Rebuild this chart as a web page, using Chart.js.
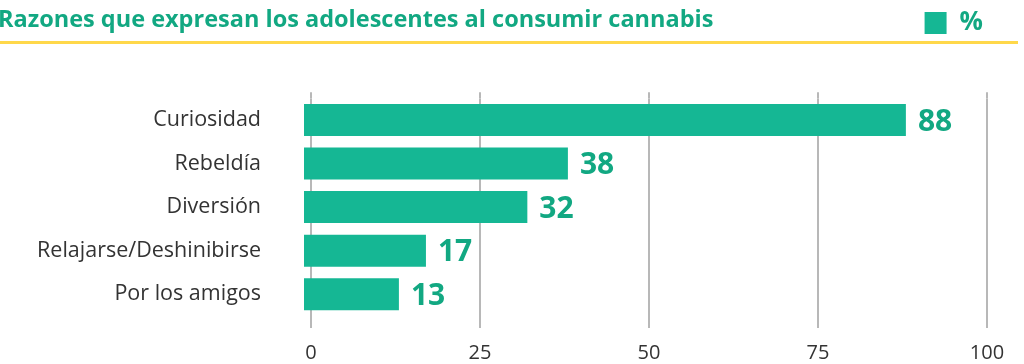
<!DOCTYPE html>
<html lang="es">
<head>
  <meta charset="UTF-8">
  <title>Razones que expresan los adolescentes al consumir cannabis</title>
  <script src="https://cdn.jsdelivr.net/npm/chart.js"></script>
  <style>
    html, body { margin: 0; padding: 0; background: #fff; }
    #wrap { width: 1024px; height: 364px; position: relative; }
  </style>
</head>
<body>
  <div id="wrap"><canvas id="razones"></canvas></div>

  <script>
    // datos
    const titulo = 'Razones que expresan los adolescentes al consumir cannabis';
    const categorias = ['Curiosidad', 'Rebeldía', 'Diversión', 'Relajarse/Deshinibirse', 'Por los amigos'];
    const porcentajes = [88, 38, 32, 17, 13];
    const serieNombre = '%';
    const marcasX = [0, 25, 50, 75, 100];

    const verde = '#15b794';
    const verdeTexto = '#12a882';
    const amarillo = '#ffd84a';
    const gris = '#b8b8b8';
    const fuente = "'Open Sans'";

    // titulo + linea amarilla, a la izquierda de la leyenda
    const cabecera = {
      id: 'cabecera',
      afterDraw(chart) {
        const ctx = chart.ctx;
        ctx.save();
        ctx.fillStyle = verdeTexto;
        ctx.font = 'bold 23.5px ' + fuente;
        ctx.textBaseline = 'alphabetic';
        ctx.textAlign = 'left';
        ctx.fillText(titulo, -2, 27);
        ctx.fillStyle = amarillo;
        ctx.fillRect(0, 41, 1018, 3);
        ctx.restore();
      }
    };

    // valores al final de cada barra
    const etiquetas = {
      id: 'etiquetas',
      afterDatasetsDraw(chart) {
        const ctx = chart.ctx;
        const meta = chart.getDatasetMeta(0);
        ctx.save();
        ctx.fillStyle = verdeTexto;
        ctx.font = 'bold 30px ' + fuente;
        ctx.textBaseline = 'middle';
        ctx.textAlign = 'left';
        meta.data.forEach((bar, i) => {
          ctx.fillText(porcentajes[i], bar.x + 12, bar.y + 2);
        });
        ctx.restore();
      }
    };

    const fijarMarcas = (scale) => {
      scale.ticks = marcasX.map(v => ({ value: v }));
    };

    new Chart(document.getElementById('razones'), {
      type: 'bar',
      data: {
        labels: categorias,
        datasets: [{
          label: serieNombre,
          data: porcentajes,
          backgroundColor: verde,
          borderWidth: 0,
          base: -1.04,
          categoryPercentage: 1,
          barPercentage: 0.734
        }]
      },
      options: {
        indexAxis: 'y',
        responsive: true,
        maintainAspectRatio: false,
        animation: false,
        layout: { padding: { left: 0, right: 37, top: 6, bottom: 0 } },
        plugins: {
          tooltip: { enabled: false },
          title: { display: false },
          legend: {
            display: true,
            position: 'top',
            align: 'end',
            labels: {
              boxWidth: 22,
              boxHeight: 22,
              padding: 4,
              color: verdeTexto,
              font: { family: fuente, size: 26, weight: 'bold' }
            }
          },
          // espacio entre la leyenda y el grafico
          subtitle: {
            display: true,
            text: '',
            weight: 500,
            font: { size: 1 },
            padding: { top: 0, bottom: 45 }
          }
        },
        scales: {
          x: {
            type: 'linear',
            position: 'bottom',
            min: -1.04,
            max: 100,
            afterBuildTicks: fijarMarcas,
            afterFit(scale) { scale.height = 48; },
            border: { display: false },
            grid: { color: gris, lineWidth: 2, drawTicks: true, tickLength: 12 },
            ticks: {
              padding: 13,
              color: '#333',
              font: { family: fuente, size: 20 }
            }
          },
          x2: {
            type: 'linear',
            axis: 'x',
            position: 'top',
            min: -1.04,
            max: 100,
            afterBuildTicks: fijarMarcas,
            border: { display: false },
            grid: { color: gris, lineWidth: 2, drawOnChartArea: false, drawTicks: true, tickLength: 6 },
            ticks: { display: false }
          },
          y: {
            border: { display: false },
            grid: { display: false, drawTicks: false },
            afterFit(scale) {
              scale.width = 304;
              // el padding de las etiquetas no debe empujar el area vertical
              scale.paddingTop = 0;
              scale.paddingBottom = 0;
            },
            ticks: {
              padding: 43,
              color: '#333',
              font: { family: fuente, size: 21.5 }
            }
          }
        }
      },
      plugins: [cabecera, etiquetas]
    });
  </script>
</body>
</html>
